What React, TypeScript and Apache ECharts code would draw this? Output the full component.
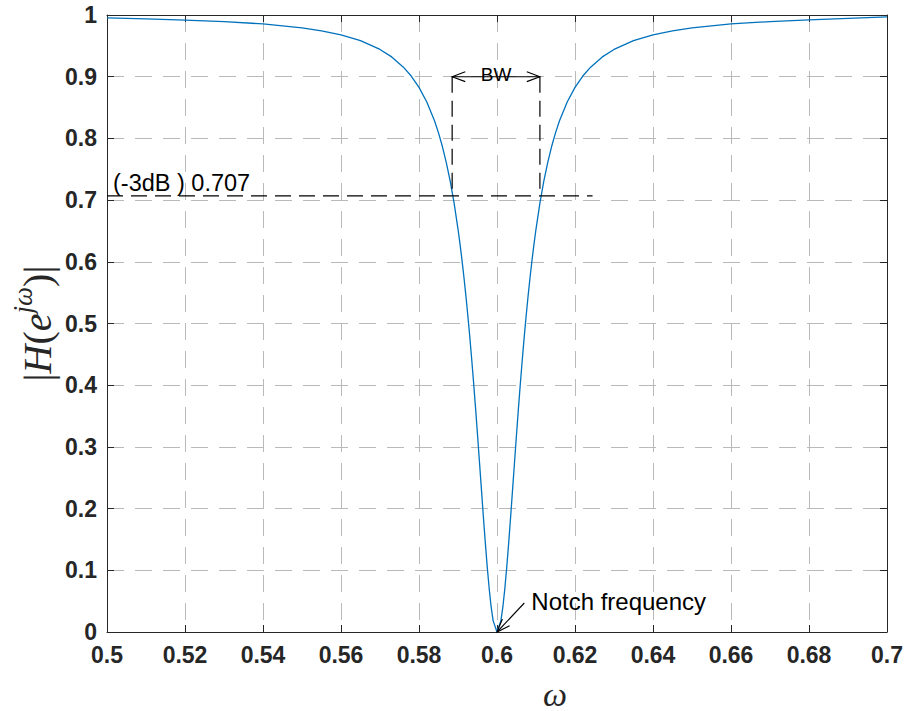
import React, { useEffect, useRef } from "react";
import * as echarts from "echarts";

// Frequency axis (ω) and magnitude |H(e^{jω})|
const omega = [
  0.5, 0.51, 0.52, 0.53, 0.54, 0.55, 0.555, 0.56, 0.565, 0.57, 0.573, 0.576, 0.578, 0.58, 0.582, 0.584,
  0.585, 0.586, 0.587, 0.588, 0.589, 0.59, 0.5905, 0.591, 0.5915, 0.592, 0.5925, 0.593, 0.5935, 0.594,
  0.5945, 0.595, 0.5955, 0.596, 0.5965, 0.597, 0.5975, 0.598, 0.5985, 0.599, 0.6, 0.601, 0.6015, 0.602,
  0.6025, 0.603, 0.6035, 0.604, 0.6045, 0.605, 0.6055, 0.606, 0.6065, 0.607, 0.6075, 0.608, 0.6085, 0.609,
  0.6095, 0.61, 0.611, 0.612, 0.613, 0.614, 0.615, 0.616, 0.618, 0.62, 0.622, 0.624, 0.627, 0.63, 0.635,
  0.64, 0.645, 0.65, 0.66, 0.67, 0.68, 0.69, 0.7,
];
const magnitude = [
  0.9955, 0.9938, 0.9918, 0.9893, 0.9855, 0.9792, 0.9744, 0.9679, 0.9584, 0.9442, 0.9321, 0.9155, 0.9011,
  0.8827, 0.8591, 0.8281, 0.8089, 0.7868, 0.7608, 0.7306, 0.695, 0.6531, 0.6294, 0.604, 0.5762, 0.5465,
  0.5142, 0.4799, 0.4429, 0.404, 0.3628, 0.3201, 0.2759, 0.2315, 0.1873, 0.1449, 0.1052, 0.07, 0.0406,
  0.0185, 0, 0.0185, 0.0406, 0.07, 0.1052, 0.1449, 0.1873, 0.2315, 0.2759, 0.3201, 0.3628, 0.404, 0.4429,
  0.4799, 0.5142, 0.5465, 0.5762, 0.604, 0.6294, 0.6531, 0.695, 0.7306, 0.7608, 0.7868, 0.8089, 0.8281,
  0.8591, 0.8827, 0.9011, 0.9155, 0.9321, 0.9442, 0.9584, 0.9679, 0.9744, 0.9792, 0.9855, 0.9893, 0.992,
  0.9945, 0.997,
];

// Annotation values (data space)
const halfPowerLevel = 0.707;
const halfPowerLineEnd = 0.6245;
const bwEdges = [0.5885, 0.611];
const bwMarkerLevel = 0.9;
const notchFreq = 0.6;
const notchLabelAnchor = [0.607, 0.047];

const halfPowerText = "(-3dB ) 0.707";
const bwText = "BW";
const notchText = "Notch frequency";

const xTicks = { min: 0.5, max: 0.7, interval: 0.02 };
const yTicks = { min: 0, max: 1, interval: 0.1 };

const AXIS_COLOR = "#262626";
const GRID_COLOR = "#b9b9b9";
const SANS = "'Liberation Sans', Arial, Helvetica, sans-serif";
const SERIF = "'Liberation Serif', 'Times New Roman', serif";

export default function App() {
  const ref = useRef<HTMLDivElement>(null);

  useEffect(() => {
    document.body.style.margin = "0";
    if (!ref.current) return;
    const chart = echarts.init(ref.current, null, { renderer: "svg" });

    const tickLabel = {
      fontFamily: SANS,
      fontWeight: "bold" as const,
      fontSize: 23,
      color: AXIS_COLOR,
    };
    const boxAxisLine = { show: true, onZero: false, lineStyle: { color: AXIS_COLOR, width: 1 } };
    const boxTick = { show: true, inside: true, length: 7, lineStyle: { color: AXIS_COLOR, width: 1 } };
    const gridLine = { show: true, lineStyle: { color: GRID_COLOR, width: 1, type: [17, 11] as any } };

    chart.setOption({
      animation: false,
      grid: { left: 107, right: 17, top: 15, bottom: 79, containLabel: false },
      xAxis: [
        {
          type: "value",
          ...xTicks,
          position: "bottom",
          axisLine: boxAxisLine,
          axisTick: boxTick,
          axisLabel: { ...tickLabel, margin: 11, formatter: (v: number) => String(+v.toFixed(2)) },
          splitLine: gridLine,
        },
        {
          type: "value",
          ...xTicks,
          position: "top",
          axisLine: boxAxisLine,
          axisTick: boxTick,
          axisLabel: { show: false },
          splitLine: { show: false },
        },
      ],
      yAxis: [
        {
          type: "value",
          ...yTicks,
          position: "left",
          axisLine: boxAxisLine,
          axisTick: boxTick,
          axisLabel: { ...tickLabel, margin: 10, formatter: (v: number) => String(+v.toFixed(1)) },
          splitLine: gridLine,
        },
        {
          type: "value",
          ...yTicks,
          position: "right",
          axisLine: boxAxisLine,
          axisTick: boxTick,
          axisLabel: { show: false },
          splitLine: { show: false },
        },
      ],
      series: [
        {
          type: "line",
          xAxisIndex: 0,
          yAxisIndex: 0,
          data: omega.map((w, i) => [w, magnitude[i]]),
          symbol: "none",
          showSymbol: false,
          lineStyle: { color: "#0072BD", width: 1.3 },
          z: 3,
        },
      ],
    });

    const p = (x: number, y: number) => chart.convertToPixel({ seriesIndex: 0 }, [x, y]) as number[];

    const openHead = (tip: number[], tail: number[], len: number, ang: number) => {
      const dx = tail[0] - tip[0];
      const dy = tail[1] - tip[1];
      const n = Math.hypot(dx, dy) || 1;
      const ux = dx / n, uy = dy / n;
      const rot = (a: number) => [
        tip[0] + len * (ux * Math.cos(a) - uy * Math.sin(a)),
        tip[1] + len * (ux * Math.sin(a) + uy * Math.cos(a)),
      ];
      return [rot(ang), tip, rot(-ang)];
    };

    const hpStart = p(xTicks.min, halfPowerLevel);
    const hpEnd = p(halfPowerLineEnd, halfPowerLevel);
    const bwL = p(bwEdges[0], bwMarkerLevel);
    const bwR = p(bwEdges[1], bwMarkerLevel);
    const bwLb = p(bwEdges[0], halfPowerLevel);
    const bwRb = p(bwEdges[1], halfPowerLevel);
    const notchTip = p(notchFreq, 0);
    const notchTail = p(notchLabelAnchor[0], notchLabelAnchor[1]);

    const dashed = { stroke: "#000", lineWidth: 1.2, lineDash: [16, 8] };
    const solid = { stroke: "#000", lineWidth: 1.1, fill: "none" };

    const plotTop = p(0, yTicks.max)[1];
    const plotBottom = p(0, yTicks.min)[1];

    chart.setOption({
      graphic: [
        { type: "line", shape: { x1: hpStart[0], y1: hpStart[1], x2: hpEnd[0], y2: hpEnd[1] }, style: dashed, z: 10 },
        { type: "line", shape: { x1: bwL[0], y1: bwL[1], x2: bwLb[0], y2: bwLb[1] }, style: dashed, z: 10 },
        { type: "line", shape: { x1: bwR[0], y1: bwR[1], x2: bwRb[0], y2: bwRb[1] }, style: dashed, z: 10 },
        { type: "line", shape: { x1: bwL[0], y1: bwL[1], x2: bwR[0], y2: bwR[1] }, style: solid, z: 10 },
        { type: "polyline", shape: { points: openHead(bwL, bwR, 14, 0.36) }, style: solid, z: 10 },
        { type: "polyline", shape: { points: openHead(bwR, bwL, 14, 0.36) }, style: solid, z: 10 },
        { type: "line", shape: { x1: notchTail[0], y1: notchTail[1], x2: notchTip[0], y2: notchTip[1] }, style: solid, z: 10 },
        { type: "polyline", shape: { points: openHead(notchTip, notchTail, 14, 0.36) }, style: solid, z: 10 },
        {
          type: "text",
          x: hpStart[0] + 6,
          y: hpStart[1] - 13,
          style: { text: halfPowerText, fontFamily: SANS, fontSize: 23.5, fill: "#000", align: "left", verticalAlign: "middle" },
          z: 11,
        },
        {
          type: "text",
          x: (bwL[0] + bwR[0]) / 2,
          y: bwL[1] - 2,
          style: { text: bwText, fontFamily: SANS, fontSize: 19, fill: "#000", align: "center", verticalAlign: "middle" },
          z: 11,
        },
        {
          type: "text",
          x: notchTail[0] + 7,
          y: notchTail[1] - 2,
          style: { text: notchText, fontFamily: SANS, fontSize: 24, fill: "#000", align: "left", verticalAlign: "middle" },
          z: 11,
        },
        {
          type: "text",
          x: 555,
          y: plotBottom + 62,
          style: { text: "ω", fontFamily: SERIF, fontStyle: "italic", fontSize: 34, fill: AXIS_COLOR, align: "center", verticalAlign: "middle" },
          z: 11,
        },
        {
          type: "text",
          x: 33,
          y: (plotTop + plotBottom) / 2,
          rotation: Math.PI / 2,
          style: {
            text: "{u||}{i|H}{u|(}{i|e}{s|jω}{u|)|}",
            align: "center",
            verticalAlign: "middle",
            fill: AXIS_COLOR,
            rich: {
              u: { fontFamily: SERIF, fontSize: 40, lineHeight: 48, verticalAlign: "bottom", fill: AXIS_COLOR },
              i: { fontFamily: SERIF, fontSize: 40, fontStyle: "italic", lineHeight: 48, verticalAlign: "bottom", fill: AXIS_COLOR },
              s: { fontFamily: SERIF, fontSize: 27, fontStyle: "italic", lineHeight: 27, padding: [0, 0, 21, 0], verticalAlign: "bottom", fill: AXIS_COLOR },
            },
          },
          z: 11,
        },
      ],
    });

    return () => chart.dispose();
  }, []);

  return <div ref={ref} style={{ width: 906, height: 711 }} />;
}
